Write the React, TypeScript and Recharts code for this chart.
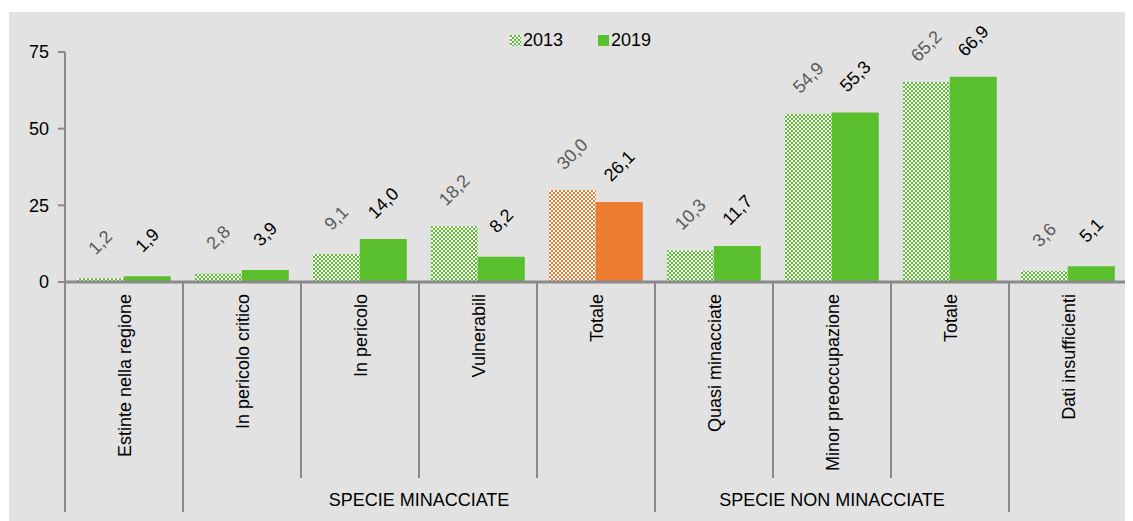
import React from 'react';
import { BarChart, Bar, XAxis, YAxis, Legend, Cell, LabelList } from 'recharts';

const categories = [
  'Estinte nella regione',
  'In pericolo critico',
  'In pericolo',
  'Vulnerabili',
  'Totale',
  'Quasi minacciate',
  'Minor preoccupazione',
  'Totale',
  'Dati insufficienti',
];
const values2013 = [1.2, 2.8, 9.1, 18.2, 30.0, 10.3, 54.9, 65.2, 3.6];
const values2019 = [1.9, 3.9, 14.0, 8.2, 26.1, 11.7, 55.3, 66.9, 5.1];
const groups = [
  { label: '', first: 0, last: 0 },
  { label: 'SPECIE MINACCIATE', first: 1, last: 4 },
  { label: 'SPECIE NON MINACCIATE', first: 5, last: 7 },
  { label: '', first: 8, last: 8 },
];
const highlighted = 4; // "Totale" specie minacciate in arancione
const yTicks = [0, 25, 50, 75];

const GREEN = '#5abf2c';
const ORANGE = '#ed7d31';
const LINE = '#8a8a8a';
const FONT = '"Liberation Sans", Arial, sans-serif';
const FS = 18;

const WIDTH = 1124;
const HEIGHT = 509;
const MARGIN = { top: 40, right: 6, left: 0, bottom: 0 };
const Y_AXIS_W = 56;
const BAND = (WIDTH - MARGIN.left - MARGIN.right - Y_AXIS_W) / categories.length;

const data = categories.map((name, i) => ({
  key: String(i),
  name,
  v2013: values2013[i],
  v2019: values2019[i],
}));

const fmt = (v: number) => v.toFixed(1).replace('.', ',');

function CategoryTick(props: any) {
  const { x, y, payload } = props;
  const i = Number(payload.value);
  const left = x - BAND / 2;
  const group = groups.find((g) => g.first === i);
  const isLast = i === categories.length - 1;
  return (
    <g>
      <line x1={left} y1={y} x2={left} y2={y + (group ? 230 : 196)} stroke={LINE} strokeWidth={2} />
      {isLast && (
        <line x1={x + BAND / 2} y1={y} x2={x + BAND / 2} y2={y + 230} stroke={LINE} strokeWidth={2} />
      )}
      <text
        transform={`translate(${x + 6.5},${y + 12}) rotate(-90)`}
        textAnchor="end"
        fontSize={FS}
        fill="#000"
      >
        {categories[i]}
      </text>
      {group && group.label && (
        <text
          x={left + ((group.last - group.first + 1) * BAND) / 2}
          y={y + 224}
          textAnchor="middle"
          fontSize={FS}
          fill="#000"
        >
          {group.label}
        </text>
      )}
    </g>
  );
}

const makeLabel = (color: string) => (props: any) => {
  const { x, y, width, value } = props;
  const cx = x + width / 2;
  const cy = y - 36;
  return (
    <text
      transform={`translate(${cx},${cy}) rotate(-45)`}
      textAnchor="middle"
      dominantBaseline="central"
      fontSize={FS}
      fill={color}
    >
      {fmt(value)}
    </text>
  );
};

function Checker({ id, color }: { id: string; color: string }) {
  return (
    <pattern id={id} width={4} height={4} patternUnits="userSpaceOnUse">
      <rect width={4} height={4} fill="#ffffff" />
      <rect width={2} height={2} fill={color} />
      <rect x={2} y={2} width={2} height={2} fill={color} />
    </pattern>
  );
}

function Swatch({ pattern }: { pattern: boolean }) {
  return (
    <svg width={11} height={11} style={{ marginRight: 2 }}>
      <defs>
        <Checker id="legend-chk" color={GREEN} />
      </defs>
      <rect width={11} height={11} fill={pattern ? 'url(#legend-chk)' : GREEN} />
    </svg>
  );
}

const renderLegend = () => (
  <div style={{ display: 'flex', alignItems: 'center', fontSize: FS, lineHeight: '21px', color: '#000', fontFamily: FONT }}>
    <span style={{ display: 'flex', alignItems: 'center', marginRight: 35 }}>
      <Swatch pattern />
      2013
    </span>
    <span style={{ display: 'flex', alignItems: 'center' }}>
      <Swatch pattern={false} />
      2019
    </span>
  </div>
);

export default function App() {
  return (
    <div style={{ width: 1125, height: 513, paddingTop: 4, paddingLeft: 1, boxSizing: 'border-box', fontFamily: FONT }}>
      <div style={{ width: WIDTH, height: HEIGHT, background: '#e2e2e2' }}>
        <BarChart
          width={WIDTH}
          height={HEIGHT}
          data={data}
          margin={MARGIN}
          barCategoryGap="10%"
          barGap={0}
        >
          <defs>
            <Checker id="chk-green" color={GREEN} />
            <Checker id="chk-orange" color={ORANGE} />
          </defs>
          <XAxis
            dataKey="key"
            type="category"
            interval={0}
            height={239}
            tickSize={0}
            tickMargin={0}
            axisLine={{ stroke: LINE, strokeWidth: 3 }}
            tickLine={false}
            tick={<CategoryTick />}
          />
          <YAxis
            width={Y_AXIS_W}
            domain={[0, 75]}
            ticks={yTicks}
            interval={0}
            tickSize={7}
            tickMargin={9}
            axisLine={{ stroke: LINE, strokeWidth: 2 }}
            tickLine={{ stroke: LINE, strokeWidth: 2 }}
            tick={{ fontSize: FS, fill: '#000' }}
          />
          <Legend
            verticalAlign="middle"
            align="center"
            content={renderLegend}
            wrapperStyle={{ top: 18, left: 501, width: 200 }}
          />
          <Bar dataKey="v2013" name="2013" fill="url(#chk-green)" isAnimationActive={false}>
            {data.map((_, i) => (
              <Cell key={i} fill={i === highlighted ? 'url(#chk-orange)' : 'url(#chk-green)'} />
            ))}
            <LabelList dataKey="v2013" content={makeLabel('#595959')} />
          </Bar>
          <Bar dataKey="v2019" name="2019" fill={GREEN} isAnimationActive={false}>
            {data.map((_, i) => (
              <Cell key={i} fill={i === highlighted ? ORANGE : GREEN} />
            ))}
            <LabelList dataKey="v2019" content={makeLabel('#000')} />
          </Bar>
        </BarChart>
      </div>
    </div>
  );
}
